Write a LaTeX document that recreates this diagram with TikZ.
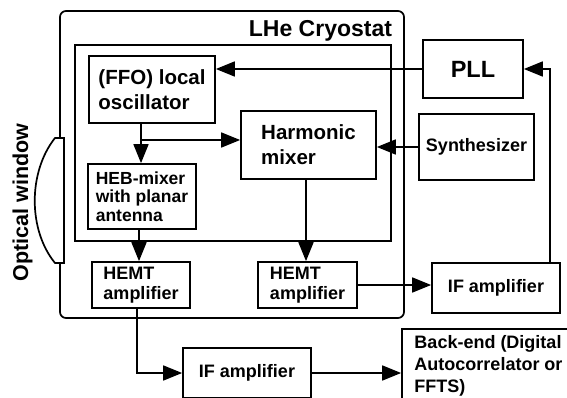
\documentclass[tikz,border=0pt]{standalone}
\usepackage{fontspec}
\setmainfont{Liberation Sans}
\usetikzlibrary{arrows.meta,calc}
\begin{document}
\begin{tikzpicture}[x=1pt,y=-1pt,
  line width=1.7pt,
  box/.style={draw,rectangle,inner sep=0pt,align=left,font=\bfseries},
  arr/.style={-{Triangle[length=19pt,width=15pt]}},
  f17/.style={font=\fontsize{17.5}{18.5}\selectfont\bfseries},
  f18/.style={font=\fontsize{18}{20}\selectfont\bfseries},
  f20/.style={font=\fontsize{20.5}{25}\selectfont\bfseries}]
\useasboundingbox (0,0) rectangle (567,398);
% cryostat
\draw[rounded corners=6pt] (60,11) rectangle (404,318);
\draw (75,45) rectangle (391,241);
\node[anchor=base,font=\fontsize{23}{25}\selectfont\bfseries] (lhe) at (320.5,37) {LHe Cryostat};
% optical window
\draw[fill=white] (64,138) -- (55,138) .. controls (28,172) and (28,230) .. (55,263) -- (64,263) -- cycle;
\node[anchor=base,rotate=90,font=\fontsize{21.5}{23}\selectfont\bfseries] (ow) at (28,202.5) {Optical window};
% boxes
\node[box,f20,minimum width=126pt,minimum height=67pt] (ffo) at (152,89.5) {(FFO) local\\oscillator};
\node[box,f20,minimum width=135pt,minimum height=68pt] (harm) at (308.5,145) {Harmonic\\mixer};
\node[box,f17,minimum width=108pt,minimum height=65pt] (heb) at (142,196.5) {HEB-mixer\\with planar\\antenna};
\node[box,f18,minimum width=98pt,minimum height=46pt] (hemta) at (141,285) {HEMT\\amplifier};
\node[box,f18,minimum width=99pt,minimum height=46pt] (hemtb) at (307.5,285) {HEMT\\amplifier};
\node[box,f18,minimum width=128pt,minimum height=50pt] (ifr) at (496,288) {IF amplifier};
\node[box,f18,minimum width=128pt,minimum height=50pt] (ifb) at (247,373) {IF amplifier};
\node[box,font=\fontsize{18}{22}\selectfont\bfseries,minimum width=173pt,minimum height=73pt] (be) at (488.5,365.5) {Back-end (Digital\\Autocorrelator or\\FFTS)};
\node[box,font=\fontsize{23.5}{25}\selectfont\bfseries,minimum width=100pt,minimum height=58pt] (pll) at (473,69) {PLL};
\node[box,f18,minimum width=115pt,minimum height=66pt] (syn) at (476.5,147) {Synthesizer};
% connectors
\coordinate (br) at (141,140);
\coordinate (c1) at (550,69);
\coordinate (c2) at (137,373);
\coordinate (hx) at (306,0);
\coordinate (bx) at (139,0);
\draw[arr] (pll.west) -- (pll.west -| ffo.east);
\draw (ffo.south -| br) -- (br);
\draw[arr] (br) -- (br |- heb.north);
\draw[arr] (br) -- (br -| harm.west);
\draw[arr] (syn.west) -- (syn.west -| harm.east);
\draw[arr] (harm.south -| hx) -- (hx |- hemtb.north);
\draw[arr] (heb.south -| bx) -- (bx |- hemta.north);
\draw[arr] (hemtb.east) -- (hemtb.east -| ifr.west);
\draw[arr] (ifr.north -| c1) -- (c1) -- (pll.east);
\draw[arr] (hemta.south -| c2) -- (c2) -- (c2 -| ifb.west);
\draw[arr] (ifb.east) -- (ifb.east -| be.west);
\end{tikzpicture}
\end{document}
